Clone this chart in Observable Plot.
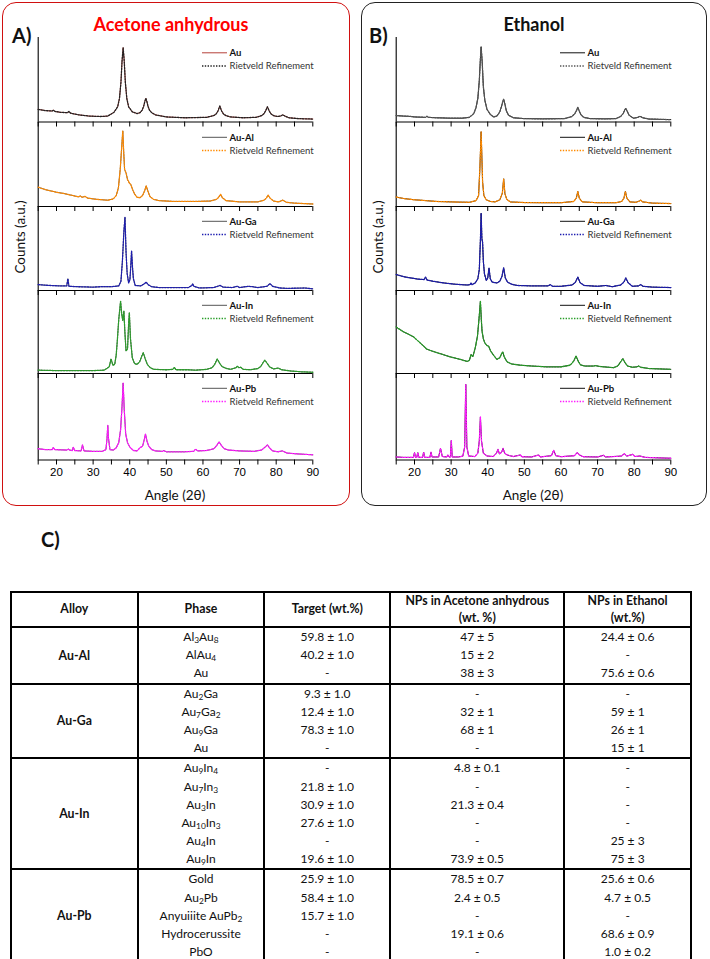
<!DOCTYPE html>
<html><head><meta charset="utf-8">
<script src="https://cdn.jsdelivr.net/npm/d3@7"></script>
<script src="https://cdn.jsdelivr.net/npm/@observablehq/plot@0.6"></script>
<style>
body{margin:0;background:#fff;width:710px;height:959px;position:relative;overflow:hidden;font-family:Lato,sans-serif;color:#111}
.abs{position:absolute;white-space:nowrap}
.panel{position:absolute;box-sizing:border-box;border-radius:14px}
.title{position:absolute;font-weight:700;font-size:18px;transform:translate(-50%,-50%);white-space:nowrap}
.tag{position:absolute;font-weight:700;font-size:20px;transform:translate(0,-50%)}
.axlab{position:absolute;font-size:13.5px;transform:translate(-50%,-50%);white-space:nowrap}
table{position:absolute;left:10px;top:591px;width:680px;border-collapse:collapse;table-layout:fixed;font-family:Lato,sans-serif;font-size:12px;color:#111}
td,th{border:2px solid #000;text-align:center;vertical-align:middle;padding:0}
th{font-weight:700;line-height:16.5px;font-size:12.3px}
td.alloy{font-weight:700;font-size:12.3px}
td .l{height:18.2px;line-height:18.2px}
sub{font-size:70%;line-height:0;vertical-align:-0.2em}
</style></head><body>
<script>
// ---------- data ----------
const angleTicks = [15,20,25,30,35,40,45,50,55,60,65,70,75,80,85,90];
const angleLabels = [20,30,40,50,60,70,80,90];
const samples = ["Au","Au-Al","Au-Ga","Au-In","Au-Pb"];
const fitLabel = "Rietveld Refinement";

// Acetone anhydrous: [angle, counts(a.u., % of band)] pairs
const acetoneAu = [15,15, 17,13.5, 18.8,13, 19.2,14, 19.6,12.5, 21,11.5, 23,11, 23.4,12.5, 23.8,10.5, 26,8.5, 29,7, 32,6.5, 34,7, 35.7,11.5, 36.7,18, 37.2,28, 37.6,47, 37.9,72, 38.2,88, 38.5,72, 38.8,47, 39.2,28, 39.7,18, 40.7,12, 42,10, 42.8,11, 43.4,14, 43.8,18.5, 44.1,24, 44.4,28, 44.7,24, 45,18.5, 45.4,14, 46,11, 47,8.5, 50,6, 55,5, 61,5.5, 63,7.7, 63.6,9.5, 64.1,13, 64.6,19, 65.1,13, 65.6,9.5, 66.3,7.5, 67.5,6, 71,5, 74.5,5.5, 76,7.5, 76.6,9.5, 77.1,13, 77.6,18, 78.1,13, 78.6,9.5, 79.3,7.5, 80.3,6.5, 81.2,7, 81.8,8.5, 82.4,7, 83.5,5, 86,4, 90,3.5];
const acetoneAuAl = [15,23, 17,20, 20,17, 22,15.5, 24,13.5, 26,11.5, 26.5,12.5, 27,11, 27.8,12, 28.5,10, 31,8.5, 34,7.5, 35.5,9, 36.3,13, 36.9,22, 37.4,44, 37.8,70, 38.1,90, 38.35,65, 38.6,44, 39.0,40, 39.4,32, 39.9,28, 40.3,26, 40.8,20, 41.3,15, 42,11, 42.8,10.5, 43.5,13, 44.1,19, 44.5,24.5, 44.9,19, 45.5,12, 46.5,8.5, 48,7, 52,6, 58,6, 62,6.5, 63.7,8.5, 64.3,11, 64.8,14.5, 65.3,10.5, 66.3,7, 70,5.5, 75,5.5, 76.7,7.5, 77.3,10, 77.8,13.5, 78.3,10, 79.3,6.5, 80.7,5.5, 81.8,7.5, 82.8,5, 85,4, 90,3];
const acetoneAuGa = [15,7, 18,6, 21,5.5, 22.8,5.5, 23.1,14, 23.4,5, 26,4.5, 30,4, 32,4.5, 35,4.5, 37,5.5, 37.6,11, 38,35, 38.4,70, 38.7,87, 39,45, 39.3,20, 39.7,9, 40.05,13, 40.3,30, 40.5,47, 40.75,28, 41,14, 41.5,6, 43,5.5, 44,8, 44.5,10, 45,7, 46,4.5, 48,3.5, 52,3.5, 56,3.5, 57,6, 57.2,8, 57.5,5, 59,3, 63,3.5, 64.3,5.5, 64.7,6, 65.5,4, 68,3.5, 69.4,5, 70,3.5, 72.4,5, 73.6,4.5, 75,3.5, 77.5,5, 78.3,8.3, 79,5, 81,3, 83,2.5, 87.8,3, 90,2];
const acetoneAuIn = [15,4, 20,3.5, 25,3.5, 30,3.5, 33,4, 34.4,8, 34.9,17.5, 35.4,10, 35.9,11, 36.3,22, 36.6,39, 37,65, 37.5,87, 37.8,72, 38.1,64, 38.4,75, 38.7,48, 39,27, 39.4,30, 39.7,60, 39.9,73, 40.2,42, 40.7,19, 41.3,12, 42,11, 42.7,14, 43.3,21, 43.7,25, 44.2,18, 44.8,11, 45.6,7, 46.6,5, 50,4.5, 51.8,5, 52.2,7.5, 52.6,4.5, 55.9,4.5, 58,4, 61,5, 62.5,7, 63.2,11, 63.9,17.5, 64.6,12, 65.3,8, 66.5,6, 67.5,5, 69.1,7, 69.4,9, 69.8,7, 70.3,7.5, 71,5, 73,4.5, 75,6, 75.8,8.5, 76.4,13, 76.9,16, 77.5,12.5, 78.2,8, 79.3,5.5, 80.6,6.5, 81.5,4.5, 84,3, 87,2, 90,1.5];
const acetoneAuPb = [15,13, 17,12, 18.8,12, 19.1,14.5, 19.5,12, 22.8,11.5, 23.2,12.7, 23.6,11.5, 24.3,11, 24.6,15, 24.9,11, 26.7,10.5, 27.1,17.4, 27.5,10.5, 30,10, 32.5,10, 33.5,12, 33.8,25, 34,40, 34.2,25, 34.6,12, 35.5,11.5, 36.3,14, 37,20, 37.5,35, 37.9,62, 38.2,89, 38.5,58, 38.9,30, 39.4,20, 40,15, 41,11, 42,10.5, 42.9,14.5, 43.5,16, 44,24, 44.3,30, 44.7,22, 45.2,16, 46,12, 47,10.5, 49,10, 49.2,11, 50,9.5, 55,9.5, 57.5,10, 58,12.7, 58.5,10.5, 61,11, 63,13, 63.8,17, 64.4,21, 65,17, 65.8,13, 67,11.5, 70,10.5, 74,10, 76,11.5, 77,15, 77.6,17.4, 78.2,14, 79,10.5, 80.5,9.5, 81.7,10.5, 83,8, 86,7, 90,6];

// Ethanol
const ethanolAu = [15,7.6, 17,7, 18.9,6.6, 20,6, 23,5.5, 23.4,6.8, 23.8,5.5, 26,5, 30,4.5, 33,4.5, 35,5.5, 36.2,10, 36.8,17, 37.3,28, 37.7,49, 38,75, 38.2,89, 38.5,70, 38.8,42, 39.2,26, 39.8,15, 40.7,9, 41.6,6, 42.5,7, 43.3,12, 43.8,19, 44.1,24, 44.35,27, 44.7,21, 45.1,13, 45.7,8, 47,5, 50,4, 55,3.7, 61,4, 63,6.5, 63.8,10, 64.3,14, 64.6,17.4, 64.9,14, 65.4,9, 66.2,5.5, 68,4, 72,3.7, 75,4, 76.3,6.5, 77,10, 77.4,14, 77.7,16.2, 78,13.5, 78.6,8, 79.8,4.5, 81,5.5, 81.6,6.8, 82.3,5, 84,3.5, 90,2.8];
const ethanolAuAl = [15,11.3, 17,9.5, 20,8, 22.5,7.2, 26,6, 31.6,5.3, 35,5, 36.8,7, 37.5,13, 37.85,45, 38.2,89, 38.6,29, 38.95,13, 39.6,8, 40.7,6, 42,5.5, 43.3,8, 44,16, 44.35,33, 44.7,15, 45.2,8.5, 46.2,5.4, 50,4.7, 55,4.5, 60,4.5, 63.5,6, 64.2,10, 64.6,18, 65,10, 65.8,5.5, 70,4.5, 75,4.5, 76.6,6, 77.2,10, 77.6,18, 78,10, 78.8,5.5, 80.5,5, 81.4,6.5, 81.8,7.5, 82.3,5.5, 85,4, 90,3.5];
const ethanolAuGa = [15,19, 17,16.5, 18.9,15, 21,13.5, 22.6,13, 23,16, 23.4,12.5, 25,11, 28,9, 31,7.5, 34.4,6.5, 35.2,7, 35.45,9, 35.7,7, 36.6,9, 37.3,14, 37.7,25, 38,60, 38.2,92, 38.4,62, 38.6,57, 38.8,35, 39.1,20, 39.6,12, 40,15, 40.35,26.5, 40.7,14, 41.2,10, 42.5,9, 43.3,11, 43.9,17, 44.35,27, 44.8,15, 45.4,10, 46.5,7.5, 48,6, 52,5.5, 56.5,5.5, 57.1,7, 57.7,5, 60,5, 63,6.5, 63.9,9.5, 64.6,16, 65.2,9.5, 66.3,6, 70,5, 72.3,6, 74,4.5, 76.3,6.5, 77.2,10, 77.7,15, 78.3,9.5, 79.5,5, 81.2,5.5, 81.8,7, 82.4,5, 85,4, 90,3.5];
const ethanolAuIn = [15,56, 16,53, 17.1,50, 18.5,47, 19.8,44, 21,39, 22,35, 22.5,33, 23.3,29.5, 24.5,27.5, 26.2,25, 28,22.5, 29.8,20, 32.5,17, 34.4,14.5, 35,16, 35.45,23, 35.9,20, 36.6,31, 37.2,45, 37.7,70, 38,87, 38.25,65, 38.45,51, 38.8,42, 39.2,37, 39.7,34, 40.25,33, 40.8,27, 41.6,22, 42.5,17, 43.3,19, 43.8,24, 44.1,26, 44.5,20, 45.3,14, 46.5,11.5, 48.9,10, 52,9, 56.2,8, 60,8, 62.5,10, 63.5,15, 64.1,21, 64.7,15, 65.3,10.5, 66.5,9, 68.9,9, 69.4,9.5, 70.5,8.5, 74.4,7, 75.5,9, 76.3,14, 76.9,18, 77.5,13, 78.2,9, 79.5,7.5, 80.7,8, 81.2,9, 81.8,7.5, 84,6, 87,5.5, 90,5];
const ethanolAuPb = [15,3.5, 17,3, 19.7,3, 20,8.5, 20.3,3, 20.6,3, 20.9,8.5, 21.2,3, 22.2,3, 22.5,9, 22.8,3, 24.2,3, 24.5,9, 24.8,3.5, 26.6,3.5, 27.1,13.5, 27.6,4, 28.8,3.5, 29.1,5.8, 29.4,3.5, 29.8,3.5, 30.05,22.5, 30.3,3.5, 32,3.5, 33.2,4.5, 33.7,15, 34,87.5, 34.3,15, 34.8,4.6, 36.5,4, 37.3,8, 37.7,22, 38,49.7, 38.3,22, 38.8,8, 39.8,4.6, 41.5,4, 42.4,8, 42.8,12.3, 43.2,7, 43.8,9, 44.2,13.5, 44.6,8, 45.3,5.8, 47,4, 48.9,5.8, 49.3,3.8, 52,3.5, 53.9,5.8, 54.3,3.5, 57.4,5, 58,11.2, 58.6,5, 60,3.8, 63.7,5, 64.4,8.5, 65.1,5.8, 66,3.8, 70,3.5, 71.6,5.4, 72.2,3.5, 76.5,4.5, 77.3,7.3, 78,4.5, 79.6,6.5, 80.2,4, 81.6,4.6, 83,3, 90,2];

const acetoneSeries = [acetoneAu, acetoneAuAl, acetoneAuGa, acetoneAuIn, acetoneAuPb];
const ethanolSeries = [ethanolAu, ethanolAuAl, ethanolAuGa, ethanolAuIn, ethanolAuPb];

// Table C
const tableHeaders = ["Alloy","Phase","Target (wt.%)","NPs in Acetone anhydrous<br>(wt. %)","NPs in Ethanol<br>(wt.%)"];
const alloys = ["Au-Al","Au-Ga","Au-In","Au-Pb"];
const phases = [
  ["Al<sub>3</sub>Au<sub>8</sub>","AlAu<sub>4</sub>","Au"],
  ["Au<sub>2</sub>Ga","Au<sub>7</sub>Ga<sub>2</sub>","Au<sub>9</sub>Ga","Au"],
  ["Au<sub>9</sub>In<sub>4</sub>","Au<sub>7</sub>In<sub>3</sub>","Au<sub>3</sub>In","Au<sub>10</sub>In<sub>3</sub>","Au<sub>4</sub>In","Au<sub>9</sub>In"],
  ["Gold","Au<sub>2</sub>Pb","Anyuiiite AuPb<sub>2</sub>","Hydrocerussite","PbO"]
];
const targetWt = [
  ["59.8 ± 1.0","40.2 ± 1.0","-"],
  ["9.3 ± 1.0","12.4 ± 1.0","78.3 ± 1.0","-"],
  ["-","21.8 ± 1.0","30.9 ± 1.0","27.6 ± 1.0","-","19.6 ± 1.0"],
  ["25.9 ± 1.0","58.4 ± 1.0","15.7 ± 1.0","-","-"]
];
const acetoneWt = [
  ["47 ± 5","15 ± 2","38 ± 3"],
  ["-","32 ± 1","68 ± 1","-"],
  ["4.8 ± 0.1","-","21.3 ± 0.4","-","-","73.9 ± 0.5"],
  ["78.5 ± 0.7","2.4 ± 0.5","-","19.1 ± 0.6","-"]
];
const ethanolWt = [
  ["24.4 ± 0.6","-","75.6 ± 0.6"],
  ["-","59 ± 1","26 ± 1","15 ± 1"],
  ["-","-","-","-","25 ± 3","75 ± 3"],
  ["25.6 ± 0.6","4.7 ± 0.5","-","68.6 ± 0.9","1.0 ± 0.2"]
];

// ---------- styling ----------
const bandTops = [37, 121.5, 205.5, 289.5, 372.5];
const bandBottoms = [121.5, 205.5, 289.5, 372.5, 459];
const obsColorsA = ["#b5403a","#555","#555","#555","#555"];
const obsColorsB = ["#111","#111","#111","#111","#111"];
const fitColors = ["#222","#ff8a00","#1c1cb0","#2a9e2a","#ff1aff"];
const fitColorsB = ["#555","#ff8a00","#1c1cb0","#2a9e2a","#ff1aff"];
const dash = "1.4 1.4";

const toPts = arr => d3.range(0, arr.length, 2).map(i => ({angle: arr[i], counts: arr[i + 1]}));
const body = document.body;

function addDiv(cls, html, css) {
  const d = document.createElement("div");
  d.className = cls; d.innerHTML = html;
  Object.assign(d.style, css);
  body.appendChild(d);
  return d;
}

// panel frames & titles
addDiv("panel", "", {left: "2px", top: "2px", width: "348px", height: "504px", border: "1.5px solid #d01010"});
addDiv("panel", "", {left: "360.5px", top: "2px", width: "346px", height: "504px", border: "1.5px solid #222"});
addDiv("title", "Acetone anhydrous", {left: "171px", top: "24px", color: "#ff0000"});
addDiv("title", "Ethanol", {left: "534px", top: "24px"});
addDiv("tag", "A)", {left: "12px", top: "35px"});
addDiv("tag", "B)", {left: "369px", top: "35px"});
addDiv("tag", "C)", {left: "41px", top: "539px"});

function drawPanel(series, left, obsColors, fits) {
  series.forEach((arr, k) => {
    const last = k === series.length - 1;
    const h = bandBottoms[k] - bandTops[k];
    const mb = last ? 27 : 6;
    const pts = toPts(arr);
    const svg = Plot.plot({
      width: 350, height: h + mb,
      marginLeft: 37.7, marginRight: 37.7, marginTop: 0, marginBottom: mb,
      x: {domain: [15, 90]},
      y: {domain: [0, 100], axis: null},
      style: {background: "transparent", overflow: "visible", fontFamily: "'Liberation Sans', Arial, sans-serif", fontSize: "11.5px", color: "#000"},
      marks: [
        Plot.ruleX([15], {stroke: "#000", strokeWidth: 1.1}),
        Plot.ruleY([0], {stroke: "#000", strokeWidth: 1.1}),
        Plot.axisX({ticks: angleTicks, tickSize: 5, tickPadding: 3, label: null, stroke: "#000",
          tickFormat: d => (last && angleLabels.includes(d)) ? String(d) : ""}),
        Plot.line(pts, {x: "angle", y: "counts", stroke: obsColors[k], strokeWidth: 1}),
        Plot.line(pts, {x: "angle", y: "counts", stroke: fits[k], strokeWidth: 1.3, strokeDasharray: dash})
      ]
    });
    svg.style.position = "absolute";
    svg.style.left = left + "px";
    svg.style.top = bandTops[k] + "px";
    body.appendChild(svg);
  });
  // legends
  const lx = left + 202, tx = left + 229.5;
  const leg = d3.select(body).append("svg").attr("width", 140).attr("height", 440)
    .style("position", "absolute").style("left", lx + "px").style("top", "0px").style("overflow", "visible");
  samples.forEach((s, k) => {
    const y1 = bandTops[k] + 15.8, y2 = bandTops[k] + 29;
    leg.append("line").attr("x1", 0).attr("x2", 25).attr("y1", y1).attr("y2", y1).attr("stroke", obsColors[k]).attr("stroke-width", 1);
    leg.append("line").attr("x1", 0).attr("x2", 25).attr("y1", y2).attr("y2", y2).attr("stroke", fits[k]).attr("stroke-width", 1.3).attr("stroke-dasharray", dash);
    leg.append("text").attr("x", tx - lx).attr("y", y1).attr("dy", "0.35em").attr("font-family", "Lato, sans-serif").attr("font-size", 9.5).attr("font-weight", 700).attr("fill", "#111").text(s);
    leg.append("text").attr("x", tx - lx).attr("y", y2).attr("dy", "0.35em").attr("font-family", "Lato, sans-serif").attr("font-size", 9.5).attr("fill", "#333").text(fitLabel);
  });
  // axis labels
  addDiv("axlab", "Angle (2θ)", {left: (left + 175) + "px", top: "495px"});
  addDiv("axlab", "Counts (a.u.)", {left: (left + 20) + "px", top: "237px", transform: "translate(-50%,-50%) rotate(-90deg)"});
}

drawPanel(acetoneSeries, 0, obsColorsA, fitColors);
drawPanel(ethanolSeries, 358, obsColorsB, fitColorsB);

// table
const colWidths = [126.7, 126.6, 126, 174, 126.7];
const groupHeights = [56, 74, 110, 90];
const table = document.createElement("table");
const cg = document.createElement("colgroup");
colWidths.forEach(w => { const c = document.createElement("col"); c.style.width = w + "px"; cg.appendChild(c); });
table.appendChild(cg);
const hr = document.createElement("tr");
hr.style.height = "34px";
tableHeaders.forEach(t => { const th = document.createElement("th"); th.innerHTML = t; hr.appendChild(th); });
table.appendChild(hr);
alloys.forEach((a, g) => {
  const tr = document.createElement("tr");
  tr.style.height = groupHeights[g] + "px";
  const lines = arr => arr.map(v => `<div class="l">${v}</div>`).join("");
  const cells = [`<td class="alloy">${a}</td>`, `<td>${lines(phases[g])}</td>`, `<td>${lines(targetWt[g])}</td>`, `<td>${lines(acetoneWt[g])}</td>`, `<td>${lines(ethanolWt[g])}</td>`];
  tr.innerHTML = cells.join("");
  table.appendChild(tr);
});
body.appendChild(table);
</script>
</body></html>
